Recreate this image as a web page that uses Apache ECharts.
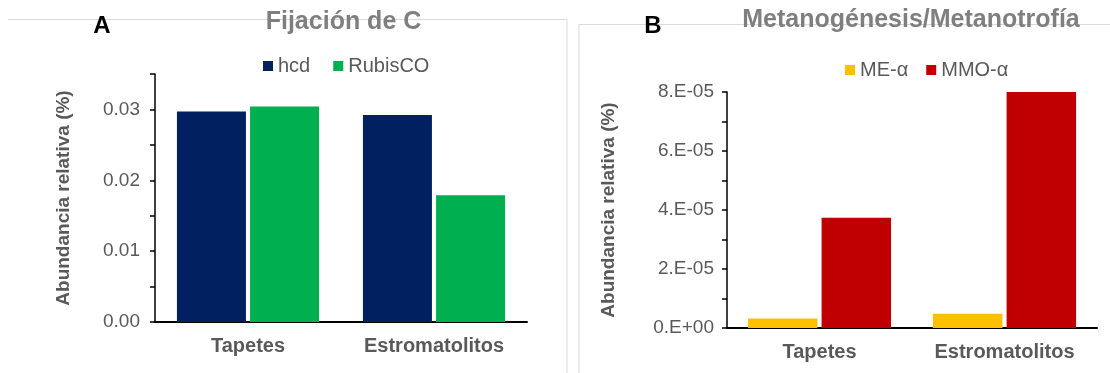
<!DOCTYPE html>
<html>
<head>
<meta charset="utf-8">
<script src="https://cdn.jsdelivr.net/npm/echarts@6/dist/echarts.min.js"></script>
<style>
html,body{margin:0;padding:0;background:#fff;}
#c{width:1110px;height:373px;}
</style>
</head>
<body>
<div id="c"></div>
<script>
// ---- data ----
const categories = ['Tapetes', 'Estromatolitos'];
const hcd = [0.0297, 0.0292];
const rubisco = [0.0304, 0.0179];
const meAlpha = [3.2e-6, 4.8e-6];
const mmoAlpha = [3.74e-5, 8.02e-5];
const seriesNamesA = ['hcd', 'RubisCO'];
const seriesNamesB = ['ME-α', 'MMO-α'];
const titleA = 'Fijación de C';
const titleB = 'Metanogénesis/Metanotrofía';
const yName = 'Abundancia relativa (%)';

const FONT = "'Liberation Sans', Arial, sans-serif";
const GREY = '#595959';

function sciLabel(v) {
  const s = Number(v).toExponential(0);
  const parts = s.split('e');
  const sign = parts[1][0];
  const digits = parts[1].slice(1).padStart(2, '0');
  return parts[0] + '.E' + sign + digits;
}

const chart = echarts.init(document.getElementById('c'), null, {renderer: 'canvas'});

const catAxis = (gridIndex, margin) => ({
  type: 'category', gridIndex, data: categories,
  axisLine: {lineStyle: {color: '#000', width: 2}},
  axisTick: {show: false},
  axisLabel: {fontFamily: FONT, fontSize: 20, fontWeight: 'bold', color: GREY, margin}
});

chart.setOption({
  animation: false,
  backgroundColor: '#fff',
  textStyle: {fontFamily: FONT},
  grid: [
    {left: 155, top: 74, width: 372, height: 248},
    {left: 727, top: 92, width: 370, height: 236}
  ],
  legend: [
    {data: seriesNamesA, left: 263, top: 56, padding: 0, itemWidth: 10, itemHeight: 10, itemGap: 23,
     icon: 'rect', textStyle: {fontFamily: FONT, fontSize: 20, color: GREY}},
    {data: seriesNamesB, left: 845, top: 60, padding: 0, itemWidth: 10, itemHeight: 10, itemGap: 18,
     icon: 'rect', textStyle: {fontFamily: FONT, fontSize: 20, color: GREY}}
  ],
  xAxis: [catAxis(0, 14), catAxis(1, 14)],
  yAxis: [
    {type: 'value', gridIndex: 0, min: 0, max: 0.035, interval: 0.005,
     splitLine: {show: false},
     axisLine: {show: true, lineStyle: {color: '#000', width: 1.5}},
     axisTick: {show: true, length: 5, lineStyle: {color: '#000', width: 1.5}},
     axisLabel: {fontFamily: FONT, fontSize: 19, color: GREY, margin: 15,
       formatter: v => (Math.round(v * 1000) % 10 === 0 && v < 0.0301) ? v.toFixed(2) : ''},
     name: yName, nameLocation: 'middle', nameGap: 82, nameRotate: 90,
     nameTextStyle: {fontFamily: FONT, fontSize: 19, fontWeight: 'bold', color: GREY}},
    {type: 'value', gridIndex: 1, min: 0, max: 8e-5, interval: 2e-5,
     splitLine: {show: false},
     axisLine: {show: true, lineStyle: {color: '#000', width: 1.5}},
     axisTick: {show: true, length: 5, lineStyle: {color: '#000', width: 1.5}},
     minorTick: {show: true, splitNumber: 2, length: 5, lineStyle: {color: '#000', width: 1.5}},
     axisLabel: {fontFamily: FONT, fontSize: 19, color: GREY, margin: 13, formatter: sciLabel},
     name: yName, nameLocation: 'middle', nameGap: 109, nameRotate: 90,
     nameTextStyle: {fontFamily: FONT, fontSize: 19, fontWeight: 'bold', color: GREY}}
  ],
  series: [
    {name: seriesNamesA[0], type: 'bar', xAxisIndex: 0, yAxisIndex: 0, data: hcd,
     barWidth: 69, barGap: '6%', itemStyle: {color: '#002060'}},
    {name: seriesNamesA[1], type: 'bar', xAxisIndex: 0, yAxisIndex: 0, data: rubisco,
     barWidth: 69, barGap: '6%', itemStyle: {color: '#00B050'}},
    {name: seriesNamesB[0], type: 'bar', xAxisIndex: 1, yAxisIndex: 1, data: meAlpha,
     barWidth: 69.5, barGap: '6%', itemStyle: {color: '#FFC000'}},
    {name: seriesNamesB[1], type: 'bar', xAxisIndex: 1, yAxisIndex: 1, data: mmoAlpha,
     barWidth: 69.5, barGap: '6%', itemStyle: {color: '#C00000'}}
  ],
  graphic: [
    {type: 'polyline', z: 0, silent: true, shape: {points: [[8, 19.5], [567, 19.5], [567, 373]]},
     style: {stroke: '#d9d9d9', lineWidth: 1, fill: null}},
    {type: 'polyline', z: 0, silent: true, shape: {points: [[579, 373], [579, 24.5], [1110, 24.5]]},
     style: {stroke: '#d9d9d9', lineWidth: 1, fill: null}},
    {type: 'text', z: 10, x: 343.5, y: 22.5, style: {text: titleA, font: "bold 25px 'Liberation Sans', Arial, sans-serif",
     fill: '#7f7f7f', align: 'center', verticalAlign: 'middle'}},
    {type: 'text', z: 10, x: 911, y: 20.5, style: {text: titleB, font: "bold 25px 'Liberation Sans', Arial, sans-serif",
     fill: '#7f7f7f', align: 'center', verticalAlign: 'middle'}},
    {type: 'text', z: 10, x: 102, y: 26.5, style: {text: 'A', font: "bold 24px 'Liberation Sans', Arial, sans-serif",
     fill: '#000', align: 'center', verticalAlign: 'middle'}},
    {type: 'text', z: 10, x: 653, y: 26.5, style: {text: 'B', font: "bold 24px 'Liberation Sans', Arial, sans-serif",
     fill: '#000', align: 'center', verticalAlign: 'middle'}}
  ]
});
</script>
</body>
</html>
